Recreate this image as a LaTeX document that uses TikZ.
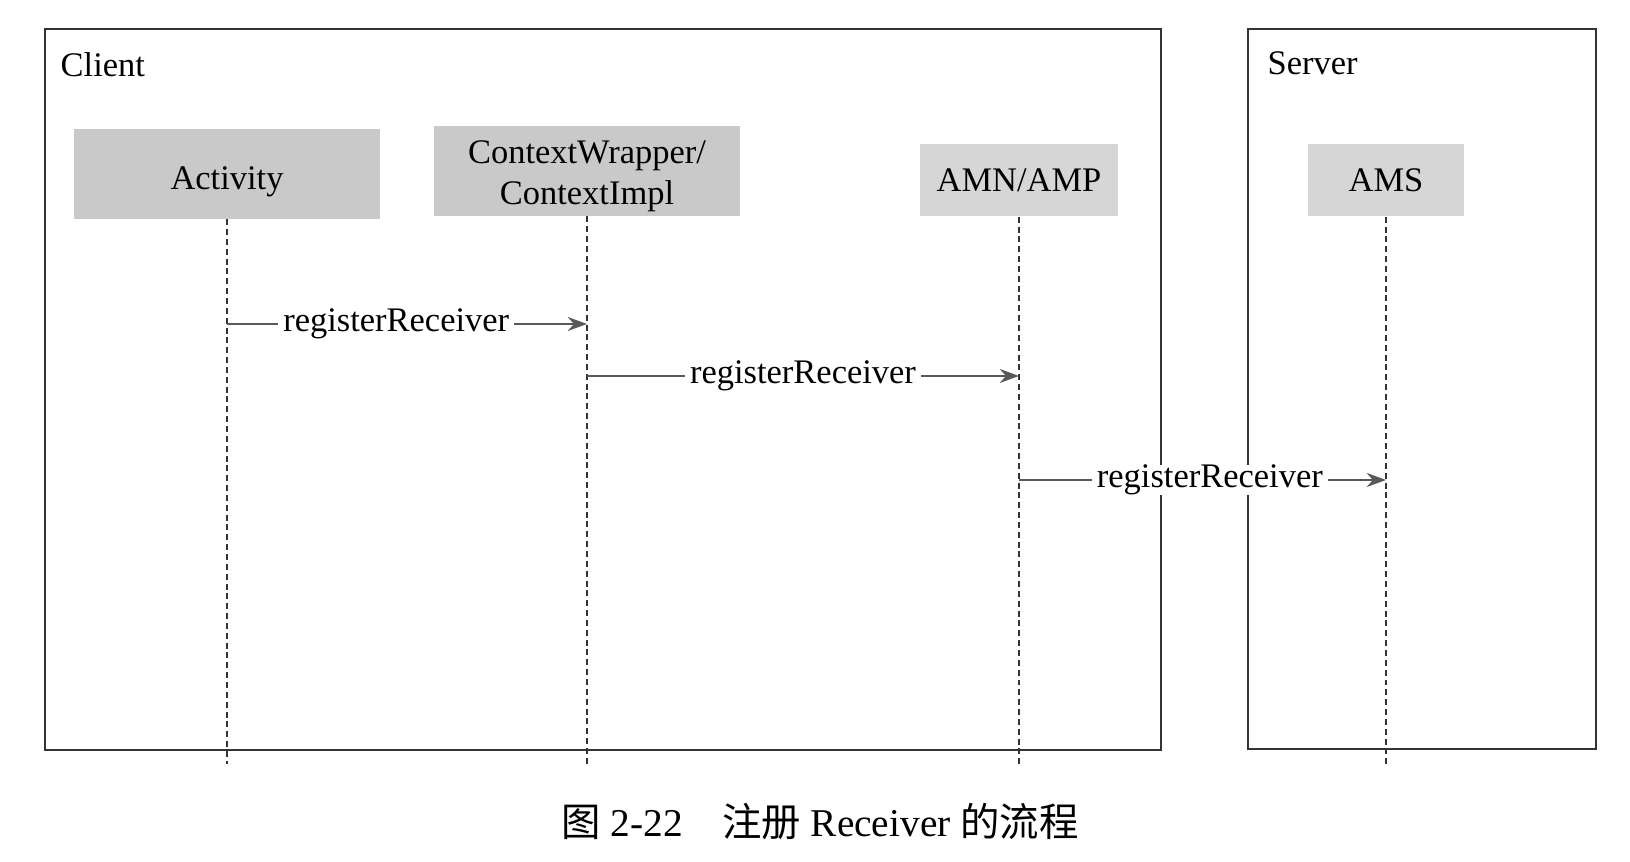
\documentclass[tikz,border=0pt]{standalone}
\usepackage{fontspec}
\setmainfont{Liberation Serif}
\newfontfamily\cjk{Noto Sans CJK SC}
\usetikzlibrary{arrows.meta}

\begin{document}
\begin{tikzpicture}[x=0.01cm, y=-0.01cm,
                font=\fontsize{9.8}{11.5}\selectfont,
                part/.style = {draw=black!80, line width=0.5pt},
                obj/.style = {fill=black!21, inner sep=0pt, align=center},
                objlight/.style = {obj, fill=black!16},
                life/.style = {draw=black!80, line width=0.45pt, dash pattern=on 1.7pt off 1.1pt},
                msg/.style = {draw=black!65, line width=0.55pt, -{Stealth[length=5.5pt, width=4pt]}},
                lbl/.style = {fill=white, inner xsep=1.5pt, inner ysep=0pt}]
                \useasboundingbox (0,0) rectangle (1630,862);

                \draw[part] (45,29) rectangle (1161,750);
                \draw[part] (1248,29) rectangle (1596,749);
                \node[anchor=west, inner sep=0pt] at (60,65) (client) {Client};
                \node[anchor=west, inner sep=0pt] at (1267,63) (server) {Server};

                \node[obj, minimum width=3.06cm, minimum height=0.89cm, text height=8.9pt, text depth=0pt] at (227,174) (act) {Activity};
                \node[obj, minimum width=3.05cm, minimum height=0.89cm, text height=19pt, text depth=0pt] at (587,171) (cw) {ContextWrapper/\\ContextImpl};
                \node[objlight, minimum width=1.97cm, minimum height=0.72cm] at (1019,180) (amn) {AMN/AMP};
                \node[objlight, minimum width=1.55cm, minimum height=0.72cm] at (1386,180) (ams) {AMS};

                \coordinate (bot) at (0,764);
                \coordinate (r1) at (0,324);
                \coordinate (r2) at (0,376);
                \coordinate (r3) at (0,480);

                \draw[life] (act.south) -- (act.south |- bot);
                \draw[life] (cw.south) -- (cw.south |- bot);
                \draw[life] (amn.south) -- (amn.south |- bot);
                \draw[life] (ams.south) -- (ams.south |- bot);

                \draw[msg] (act.south |- r1) -- node[lbl, pos=0.47] {registerReceiver} (cw.south |- r1);
                \draw[msg] (cw.south |- r2) -- node[lbl, pos=0.5] {registerReceiver} (amn.south |- r2);
                \draw[msg] (amn.south |- r3) -- node[lbl, pos=0.52] {registerReceiver} (ams.south |- r3);

                \node at (820,822) (caption) {\fontsize{11.2}{13}\selectfont{\cjk 图} 2-22\quad{\cjk 注册} Receiver {\cjk 的流程}};
            \end{tikzpicture}
\end{document}
